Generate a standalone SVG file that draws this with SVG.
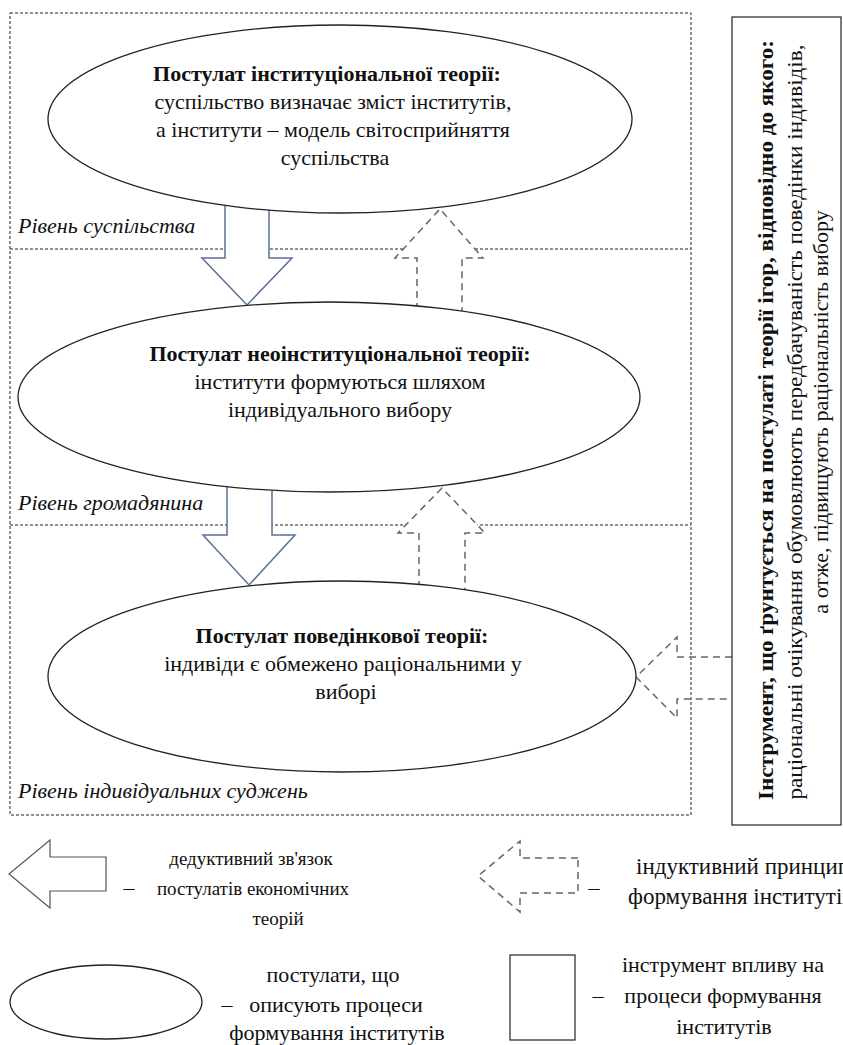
<svg xmlns="http://www.w3.org/2000/svg" width="843" height="1045" viewBox="0 0 843 1045">
  <defs>
    <style>
      .frame { fill: none; stroke: #222; stroke-width: 1; stroke-dasharray: 3 2; }
      .ell { fill: #fff; stroke: #222; stroke-width: 1.3; }
      .ded { fill: #fff; stroke: #5b6f94; stroke-width: 1.5; }
      .ded-legend { fill: #fff; stroke: #555; stroke-width: 1.2; }
      .ind { fill: #fff; stroke: #666; stroke-width: 1.5; stroke-dasharray: 7 5; }
      .ind-open { fill: none; stroke: #666; stroke-width: 1.5; stroke-dasharray: 7 5; }
      .box { fill: #fff; stroke: #333; stroke-width: 1.3; }
      text { font-family: "Liberation Serif", "Times New Roman", "DejaVu Serif", serif; fill: #111; }
      .t { font-size: 22px; text-anchor: middle; }
      .b { font-weight: bold; }
      .lvl { font-size: 22px; font-style: italic; }
      .lg { font-size: 22px; text-anchor: middle; }
      .lg-s { font-size: 19px; text-anchor: middle; }
      .lg-w { font-size: 23px; }
    </style>
  </defs>

  <!-- levels frame with dividers -->
  <g id="levels">
    <rect class="frame" x="10" y="13" width="681" height="802"/>
    <line class="frame" x1="10" y1="249" x2="691" y2="249"/>
    <line class="frame" x1="10" y1="525" x2="691" y2="525"/>
    <text class="lvl" x="18" y="233">Рівень суспільства</text>
    <text class="lvl" x="18" y="510">Рівень громадянина</text>
    <text class="lvl" x="18" y="798">Рівень індивідуальних суджень</text>
  </g>

  <!-- connectors: deductive (solid) and inductive (dashed) block arrows -->
  <g id="connectors">
    <path class="ded" d="M225,200 V258 H202 L247,305 L292,258 H269 V200"/>
    <path class="ded" d="M227,480 V535 H203 L249,585 L295,535 H272 V480"/>
    <path class="ind" d="M417,322 V258 H395 L440,209 L483,258 H462 V322"/>
    <path class="ind" d="M419,600 V533 H398 L442,488 L485,533 H465 V600"/>
    <path class="ind-open" d="M732,657 H677 V637 L636,677 L677,718 V699 H732"/>
  </g>

  <g id="institutional">
    <ellipse class="ell" cx="340" cy="119" rx="292" ry="94"/>
    <text class="t b" x="327" y="81">Постулат інституціональної теорії:</text>
    <text class="t" x="333" y="109">суспільство визначає зміст інститутів,</text>
    <text class="t" x="333" y="137">а інститути – модель світосприйняття</text>
    <text class="t" x="335" y="165">суспільства</text>
  </g>

  <g id="neoinstitutional">
    <ellipse class="ell" cx="329" cy="397" rx="311" ry="95"/>
    <text class="t b" x="340" y="361">Постулат неоінституціональної теорії:</text>
    <text class="t" x="340" y="389">інститути формуються шляхом</text>
    <text class="t" x="340" y="417">індивідуального вибору</text>
  </g>

  <g id="behavioral">
    <ellipse class="ell" cx="342" cy="676.5" rx="294" ry="95.5"/>
    <text class="t b" x="342" y="643">Постулат поведінкової теорії:</text>
    <text class="t" x="343" y="671">індивіди є обмежено раціональними у</text>
    <text class="t" x="346" y="699">виборі</text>
  </g>

  <g id="game-theory-tool">
    <rect class="box" x="732" y="17" width="109" height="808"/>
    <text class="t b" transform="translate(773,420) rotate(-90)" textLength="760" lengthAdjust="spacingAndGlyphs">Інструмент, що ґрунтується на постулаті теорії ігор, відповідно до якого:</text>
    <text class="t" transform="translate(802,422) rotate(-90)" textLength="755" lengthAdjust="spacingAndGlyphs">раціональні очікування обумовлюють передбачуваність поведінки індивідів,</text>
    <text class="t" transform="translate(828,412) rotate(-90)">а отже, підвищують раціональність вибору</text>
  </g>

  <!-- legend -->
  <g id="legend-deductive">
    <path class="ded-legend" d="M106,857 H50 V840 L9,874 L50,908 V891 H106 Z"/>
    <text class="lg" x="129" y="895">–</text>
    <text class="lg-s" x="251" y="865">дедуктивний зв'язок</text>
    <text class="lg-s" x="253" y="895">постулатів економічних</text>
    <text class="lg-s" x="278" y="925">теорій</text>
  </g>

  <g id="legend-inductive">
    <path class="ind" d="M578,858 H520 V841 L478,876 L520,912 V893 H578 Z"/>
    <text class="lg" x="594" y="895">–</text>
    <text class="lg-w" x="636" y="874">індуктивний принцип</text>
    <text class="lg-w" x="628" y="904">формування інститутів</text>
  </g>

  <g id="legend-postulates">
    <ellipse class="ell" cx="106" cy="1002" rx="96" ry="37"/>
    <text class="lg" x="227" y="1012">–</text>
    <text class="lg" x="333" y="982">постулати, що</text>
    <text class="lg" x="336" y="1012">описують процеси</text>
    <text class="lg" x="337" y="1040">формування інститутів</text>
  </g>

  <g id="legend-tool">
    <rect class="box" x="510" y="955" width="65" height="85"/>
    <text class="lg" x="598" y="1003">–</text>
    <text class="lg" x="723" y="972">інструмент впливу на</text>
    <text class="lg" x="723" y="1003">процеси формування</text>
    <text class="lg" x="724" y="1034">інститутів</text>
  </g>
</svg>
